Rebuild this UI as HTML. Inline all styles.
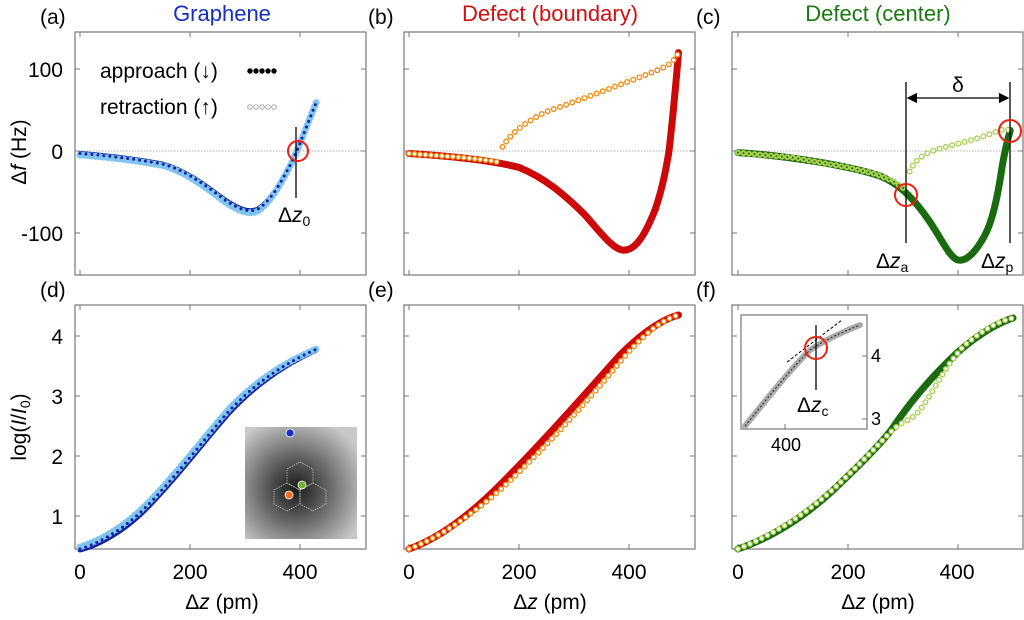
<!DOCTYPE html><html><head><meta charset="utf-8"><style>
body{margin:0;background:#fff;width:1024px;height:615px;overflow:hidden}
svg{font-family:"Liberation Sans",sans-serif}
</style></head><body>
<svg width="1024" height="615" viewBox="0 0 1024 615" xmlns="http://www.w3.org/2000/svg">
<defs>
<radialGradient id="gi" cx="0.45" cy="0.55" r="0.65"><stop offset="0" stop-color="#1a1a1a"/><stop offset="0.3" stop-color="#4a4a4a"/><stop offset="0.75" stop-color="#9a9a9a"/><stop offset="1" stop-color="#c8c8c8"/></radialGradient>
<marker id="ar" markerWidth="8" markerHeight="8" refX="7" refY="4" orient="auto"><path d="M0,0 L8,4 L0,8 z" fill="#000"/></marker>
<marker id="al" markerWidth="8" markerHeight="8" refX="1" refY="4" orient="auto"><path d="M8,0 L0,4 L8,8 z" fill="#000"/></marker>
</defs>
<g font-size="21" fill="#000">
<text x="40" y="24">(a)</text><text x="368" y="24">(b)</text><text x="696" y="24">(c)</text>
<text x="40" y="297">(d)</text><text x="368" y="297">(e)</text><text x="696" y="297">(f)</text>
</g>
<g font-size="22" text-anchor="middle">
<text x="222" y="21" fill="#1530c0">Graphene</text>
<text x="550" y="21" fill="#d01010">Defect (boundary)</text>
<text x="878" y="21" fill="#1a7a10">Defect (center)</text>
</g>
<g fill="none" stroke="#777" stroke-width="1.2">
<rect x="75" y="32" width="291" height="243"/><rect x="404" y="32" width="291" height="243"/><rect x="732" y="32" width="291" height="243"/>
<rect x="75" y="305" width="291" height="244"/><rect x="404" y="305" width="291" height="244"/><rect x="732" y="305" width="291" height="244"/>
</g>
<g stroke="#777" stroke-width="1">
<path d="M80,275v-5M190,275v-5M300,275v-5M80,32v5M190,32v5M300,32v5M409,275v-5M519,275v-5M629,275v-5M409,32v5M519,32v5M629,32v5M738,275v-5M848,275v-5M958,275v-5M738,32v5M848,32v5M958,32v5"/>
<path d="M80,549v-5M190,549v-5M300,549v-5M80,305v5M190,305v5M300,305v5M409,549v-5M519,549v-5M629,549v-5M409,305v5M519,305v5M629,305v5M738,549v-5M848,549v-5M958,549v-5M738,305v5M848,305v5M958,305v5"/>
<path d="M75,69h5M75,151h5M75,233h5M366,69h-5M366,151h-5M366,233h-5M404,69h5M404,151h5M404,233h5M695,69h-5M695,151h-5M695,233h-5M732,69h5M732,151h5M732,233h5M1023,69h-5M1023,151h-5M1023,233h-5"/>
<path d="M75,336h5M75,396h5M75,456h5M75,516h5M366,336h-5M366,396h-5M366,456h-5M366,516h-5M404,336h5M404,396h5M404,456h5M404,516h5M695,336h-5M695,396h-5M695,456h-5M695,516h-5M732,336h5M732,396h5M732,456h5M732,516h5M1023,336h-5M1023,396h-5M1023,456h-5M1023,516h-5"/>
</g>
<g stroke="#999" stroke-width="0.8" stroke-dasharray="1.5,1.5"><path d="M75,151h291M404,151h291M732,151h291"/></g>

<g fill="none" stroke-linejoin="round" stroke-linecap="round">
<!-- (a) -->
<path stroke="#1020a0" stroke-width="5" d="M80,153.5 C100,155 130,158 162.5,164 C185,170 205,185 225,200 C240,210 250,213 258,209 C272,200 282,180 289,167.4 C296,155 305,130 316.5,101.8"/>
<path stroke="#80c4f0" stroke-width="7" stroke-dasharray="0 4" d="M80,155 C100,156.5 130,159.5 162.5,165.5 C185,171.5 205,187 225,202 C240,212 250,215 258,211 C272,201 282,181 289,168 C296,155 305,130 316.5,101.8"/>
<path stroke="#1020a0" stroke-width="3" stroke-dasharray="0 6" d="M80,153.5 C100,155 130,158 162.5,164 C185,170 205,185 225,200 C240,210 250,213 258,209 C272,200 282,180 289,167.4 C296,155 305,130 316.5,101.8"/>
<!-- (b) -->
<path stroke="#cc0808" stroke-width="7" d="M409,153.5 C450,156 490,160 519,167.4 C545,178 565,195 585,215 C600,232 612,248 622,250 C635,252 645,235 655,210 C662,190 666,170 669,151 C672,125 675,95 678.5,52.6"/>
<polyline stroke="#f08a10" stroke-width="6" stroke-dasharray="0 5.5" points="409,153.5 464,157.6 491.5,160.8 499.75,162.5"/>
<polyline stroke="#fff" stroke-width="3.3" stroke-dasharray="0 5.5" points="409,153.5 464,157.6 491.5,160.8 499.75,162.5"/>
<path stroke="#f08a10" stroke-width="6" stroke-dasharray="0 6.5" d="M502.5,146.9 C510,135 520,125 546.5,111.6 C580,100 620,85 656.5,70.6 C665,67 673,64 678.5,52.6"/>
<path stroke="#fff" stroke-width="3.3" stroke-dasharray="0 6.5" d="M502.5,146.9 C510,135 520,125 546.5,111.6 C580,100 620,85 656.5,70.6 C665,67 673,64 678.5,52.6"/>
<!-- (c) -->
<path stroke="#1a6a10" stroke-width="7" d="M738,152.6 C790,156 850,166 880,176 C900,184 915,200 930,222 C942,240 950,258 958,260 C968,262 978,248 985,235 C993,220 998,195 1002,167.4 C1005,150 1008,138 1010.25,130.5"/>
<polyline stroke="#a8d050" stroke-width="6" stroke-dasharray="0 5.5" points="738,152.6 793,157.6 848,167.4 875.5,174 893,181 906,190"/>
<polyline stroke="#1a6a10" stroke-width="2" stroke-dasharray="0 5.5" points="738,152.6 793,157.6 848,167.4 875.5,174 893,181 906,190"/>
<path stroke="#a8d050" stroke-width="6" stroke-dasharray="0 6.5" d="M909.6,171.5 C915,160 922,155 935,150 C955,144 975,140 990,134 C1000,130 1005,128 1010.25,130.5"/>
<path stroke="#fff" stroke-width="3.3" stroke-dasharray="0 6.5" d="M909.6,171.5 C915,160 922,155 935,150 C955,144 975,140 990,134 C1000,130 1005,128 1010.25,130.5"/>
<!-- (d) -->
<path stroke="#1020a0" stroke-width="5" d="M80,550 C100,545 125,530 145,510 C175,480 205,440 230,412 C260,380 290,362 316.5,350"/>
<path stroke="#80c4f0" stroke-width="7" stroke-dasharray="0 4" d="M80,547 C100,541 125,526 145,506 C175,476 205,436 230,408 C260,377 290,360 316.5,349"/>
<path stroke="#1020a0" stroke-width="3" stroke-dasharray="0 6" d="M80,549 C100,543 125,528 145,508 C175,478 205,438 230,410 C260,378.5 290,361 316.5,349.2"/>
<!-- (e) -->
<path stroke="#cc0808" stroke-width="7" d="M409,549 C440,538 470,515 500,485 C540,445 580,400 620,355 C640,335 660,320 678.5,315"/>
<path stroke="#f08a10" stroke-width="6" stroke-dasharray="0 6.5" d="M409,549 C440,537 470,516 500,490 C540,453 580,410 620,362 C640,338 660,320 678.5,315"/>
<path stroke="#fff" stroke-width="3.3" stroke-dasharray="0 6.5" d="M409,549 C440,537 470,516 500,490 C540,453 580,410 620,362 C640,338 660,320 678.5,315"/>
<!-- (f) -->
<path stroke="#1a6a10" stroke-width="7" d="M738,549 C770,538 800,520 830,493 C860,465 880,445 892,429 C910,402 930,378 958,352 C980,333 1000,322 1013,318"/>
<path stroke="#a8d050" stroke-width="6" stroke-dasharray="0 6.5" d="M738,549 C770,536 800,518 830,492 C860,465 880,442 895,428 C905,420 912,420 920,410 C935,390 945,365 965,345 C985,328 1000,321 1013,318"/>
<path stroke="#fff" stroke-width="3.3" stroke-dasharray="0 6.5" d="M738,549 C770,536 800,518 830,492 C860,465 880,442 895,428 C905,420 912,420 920,410 C935,390 945,365 965,345 C985,328 1000,321 1013,318"/>
</g>

<g font-size="21" fill="#000">
<text x="63" y="77" text-anchor="end">100</text><text x="63" y="159" text-anchor="end">0</text><text x="63" y="241" text-anchor="end">-100</text>
<text x="63" y="344" text-anchor="end">4</text><text x="63" y="404" text-anchor="end">3</text><text x="63" y="464" text-anchor="end">2</text><text x="63" y="524" text-anchor="end">1</text>
<text transform="translate(26,152) rotate(-90)" text-anchor="middle">Δ<tspan font-style="italic">f</tspan> (Hz)</text>
<text transform="translate(26,427) rotate(-90)" text-anchor="middle">log(<tspan font-style="italic">I</tspan>/<tspan font-style="italic">I</tspan><tspan font-size="14" dy="4">0</tspan><tspan dy="-4">)</tspan></text>
<g text-anchor="middle">
<text x="80" y="579">0</text><text x="190" y="579">200</text><text x="300" y="579">400</text>
<text x="409" y="579">0</text><text x="519" y="579">200</text><text x="629" y="579">400</text>
<text x="738" y="579">0</text><text x="848" y="579">200</text><text x="957" y="579">400</text>
<text x="222" y="609">Δ<tspan font-style="italic">z</tspan> (pm)</text>
<text x="550" y="609">Δ<tspan font-style="italic">z</tspan> (pm)</text>
<text x="878" y="609">Δ<tspan font-style="italic">z</tspan> (pm)</text>
</g>
<text x="100" y="78">approach (↓)</text><text x="100" y="114">retraction (↑)</text>
</g>
<g fill="#000"><circle cx="250" cy="71" r="2.7"/><circle cx="256" cy="71" r="2.7"/><circle cx="262" cy="71" r="2.7"/><circle cx="268" cy="71" r="2.7"/><circle cx="274" cy="71" r="2.7"/></g>
<g fill="#fff" stroke="#aaa"><circle cx="250" cy="107" r="2.3"/><circle cx="256" cy="107" r="2.3"/><circle cx="262" cy="107" r="2.3"/><circle cx="268" cy="107" r="2.3"/><circle cx="274" cy="107" r="2.3"/></g>

<line x1="296" y1="127" x2="296" y2="198" stroke="#000" stroke-width="1.3"/>
<circle cx="298" cy="151" r="10" fill="none" stroke="#f02010" stroke-width="2"/>
<text x="278" y="222" font-size="21">Δ<tspan font-style="italic">z</tspan><tspan font-size="14" dy="4">0</tspan></text>

<line x1="906" y1="82" x2="906" y2="243" stroke="#000" stroke-width="1.3"/>
<line x1="1010" y1="82" x2="1010" y2="243" stroke="#000" stroke-width="1.3"/>
<line x1="908" y1="98" x2="1008" y2="98" stroke="#000" stroke-width="1.3" marker-end="url(#ar)" marker-start="url(#al)"/>
<text x="958" y="92" font-size="21" text-anchor="middle">δ</text>
<circle cx="906" cy="195" r="11" fill="none" stroke="#f02010" stroke-width="2"/>
<circle cx="1010" cy="131" r="11" fill="none" stroke="#f02010" stroke-width="2"/>
<text x="876" y="268" font-size="21">Δ<tspan font-style="italic">z</tspan><tspan font-size="14" dy="4">a</tspan></text>
<text x="981" y="268" font-size="21">Δ<tspan font-style="italic">z</tspan><tspan font-size="14" dy="4">p</tspan></text>

<rect x="245" y="427" width="112" height="112" fill="url(#gi)"/>
<g fill="none" stroke="#ddd" stroke-width="0.6" stroke-dasharray="1.5,1">
<polygon points="300,462 313,469 313,483 300,490 287,483 287,469"/>
<polygon points="287,483 300,490 300,504 287,511 274,504 274,490"/>
<polygon points="313,483 326,490 326,504 313,511 300,504 300,490"/>
</g>
<circle cx="290" cy="433" r="4" fill="#1530d0" stroke="#fff" stroke-width="0.8"/>
<circle cx="302" cy="485" r="4" fill="#70b030" stroke="#fff" stroke-width="0.8"/>
<circle cx="289" cy="495" r="4" fill="#f07020" stroke="#fff" stroke-width="0.8"/>

<rect x="741" y="315" width="126" height="114" fill="#fff" stroke="#777" stroke-width="1.2"/>
<path d="M785,429v-5M867,356h-5M867,419h-5" stroke="#777"/>
<path d="M745,426 C770,395 790,370 810,350 C825,340 840,333 860,325" fill="none" stroke="#aaa" stroke-width="6" stroke-linecap="round"/>
<path d="M745,426 C770,395 790,370 810,350 C825,340 840,333 860,325" fill="none" stroke="#222" stroke-width="1" stroke-dasharray="2,2"/>
<line x1="787" y1="362" x2="842" y2="320" stroke="#000" stroke-width="1" stroke-dasharray="3,2"/>
<line x1="816" y1="325" x2="816" y2="390" stroke="#000" stroke-width="1.3"/>
<circle cx="816" cy="348" r="11" fill="none" stroke="#f02010" stroke-width="2"/>
<text x="797" y="412" font-size="21">Δ<tspan font-style="italic">z</tspan><tspan font-size="14" dy="4">c</tspan></text>
<text x="871" y="362" font-size="18">4</text><text x="871" y="425" font-size="18">3</text>
<text x="786" y="451" font-size="18" text-anchor="middle">400</text>
</svg></body></html>
